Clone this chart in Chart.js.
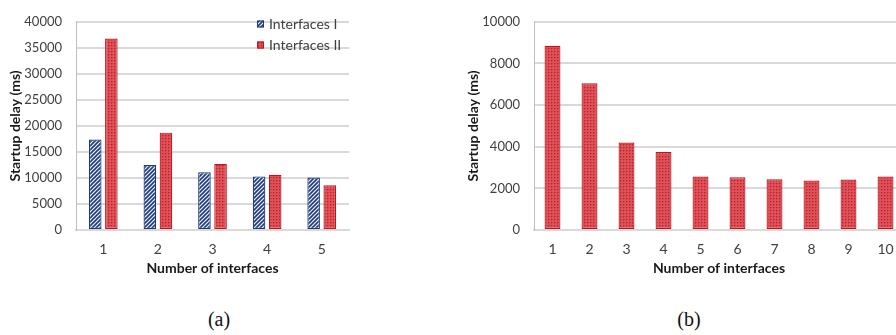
<!DOCTYPE html>
<html>
<head>
<meta charset="utf-8">
<script src="https://cdn.jsdelivr.net/npm/chart.js@4/dist/chart.umd.min.js"></script>
<style>
  html, body { margin: 0; padding: 0; background: #fff; overflow: hidden; width: 896px; height: 335px; }
  #wrap { position: relative; width: 896px; height: 335px; overflow: hidden; }
  canvas { position: absolute; }
  #chartA { left: 0; top: 0; }
  #chartB { left: 440px; top: 0; }
  .cap { position: absolute; font-family: "Liberation Serif", "DejaVu Serif", serif; font-size: 20px; color: #111; transform: translate(-50%, -50%); white-space: nowrap; }
</style>
</head>
<body>
<div id="wrap">
  <canvas id="chartA" width="360" height="300"></canvas>
  <canvas id="chartB" width="470" height="300"></canvas>
  <div class="cap" style="left:219px; top:319px;">(a)</div>
  <div class="cap" style="left:689px; top:319px;">(b)</div>
</div>
<script>
// Startup delay vs. number of interfaces
const categoriesA = ['1', '2', '3', '4', '5'];
const seriesNamesA = ['Interfaces I', 'Interfaces II'];
const interfacesI = [17400, 12500, 11100, 10300, 10100];
const interfacesII = [36800, 18700, 12700, 10600, 8600];
const yTicksA = { max: 40000, step: 5000 };

const categoriesB = ['1', '2', '3', '4', '5', '6', '7', '8', '9', '10'];
const delaysB = [8850, 7050, 4200, 3750, 2570, 2530, 2440, 2380, 2420, 2570];
const yTicksB = { max: 10000, step: 2000 };

const xTitle = 'Number of interfaces';
const yTitle = 'Startup delay (ms)';

// Fill textures: navy diagonal hatch and red dotted weave
function hatchPattern() {
  const c = document.createElement('canvas');
  c.width = 4; c.height = 4;
  const g = c.getContext('2d');
  g.fillStyle = '#eef1f8';
  g.fillRect(0, 0, 4, 4);
  g.strokeStyle = '#1e3c7c';
  g.lineWidth = 1.6;
  g.beginPath();
  g.moveTo(-1, 5); g.lineTo(5, -1);
  g.moveTo(-1, 1); g.lineTo(1, -1);
  g.moveTo(3, 5); g.lineTo(5, 3);
  g.stroke();
  return g.createPattern(c, 'repeat');
}
function dotPattern() {
  const c = document.createElement('canvas');
  c.width = 3; c.height = 3;
  const g = c.getContext('2d');
  g.fillStyle = '#e0525a';
  g.fillRect(0, 0, 3, 3);
  g.fillStyle = '#d23c43';
  g.fillRect(1, 0, 1, 1);
  g.fillRect(0, 1, 1, 1);
  g.fillStyle = '#b8222a';
  g.fillRect(0, 0, 1, 1);
  return g.createPattern(c, 'repeat');
}

const blueFill = hatchPattern();
const redFill = dotPattern();
const blueEdge = '#1f3a78';
const redEdge = '#c0141c';

const tickFont = { family: 'Lato, "Open Sans", sans-serif', size: 13 };
const titleFont = { family: 'Lato, "Open Sans", sans-serif', size: 14, weight: 'bold' };
const tickColor = '#404040';
const titleColor = '#1a1a1a';
const gridColor = '#d9d9d9';

// Legend drawn inside the plot area, stacked vertically
const insideLegend = {
  id: 'insideLegend',
  afterDraw(chart, args, opts) {
    if (!opts || !opts.show) return;
    const ctx = chart.ctx;
    ctx.save();
    ctx.font = '14px Lato, "Open Sans", sans-serif';
    ctx.textBaseline = 'middle';
    chart.data.datasets.forEach((ds, i) => {
      const y = opts.y + i * opts.gap;
      ctx.fillStyle = ds.backgroundColor;
      ctx.fillRect(opts.x, y - 3.5, 7, 7);
      ctx.strokeStyle = ds.borderColor;
      ctx.lineWidth = 1;
      ctx.strokeRect(opts.x + 0.5, y - 3, 6, 6);
      ctx.fillStyle = tickColor;
      ctx.fillText(ds.label, opts.x + 12, y + 0.5);
    });
    ctx.restore();
  }
};

const plainNumber = v => String(v);

function makeScales(yConf, yWidth, yTitlePad) {
  return {
    x: {
      grid: { display: false, drawTicks: false },
      border: { display: true, color: gridColor, width: 2 },
      ticks: { font: { ...tickFont, size: 14 }, color: tickColor, padding: 11 },
      title: { display: true, text: xTitle, font: titleFont, color: titleColor, padding: { top: 0, bottom: 23 } },
      afterFit(s) { s.height = 70; }
    },
    y: {
      min: 0, max: yConf.max,
      grid: { color: gridColor, lineWidth: 2, drawTicks: false },
      border: { display: true, color: '#bfbfbf', width: 1 },
      ticks: { stepSize: yConf.step, font: tickFont, color: tickColor, padding: 14, callback: plainNumber },
      title: { display: true, text: yTitle, font: titleFont, color: titleColor, padding: { top: yTitlePad, bottom: 0 } },
      afterFit(s) { s.width = yWidth; }
    }
  };
}

new Chart(document.getElementById('chartA'), {
  type: 'bar',
  data: {
    labels: categoriesA,
    datasets: [
      { label: seriesNamesA[0], data: interfacesI, backgroundColor: blueFill, borderColor: blueEdge, borderWidth: 1.2, borderSkipped: false },
      { label: seriesNamesA[1], data: interfacesII, backgroundColor: redFill, borderColor: redEdge, borderWidth: 1.2, borderSkipped: false }
    ]
  },
  options: {
    responsive: false,
    animation: false,
    categoryPercentage: 0.59,
    barPercentage: 0.78,
    layout: { padding: { top: 13, right: 11, left: 0, bottom: 0 } },
    plugins: {
      legend: { display: false },
      tooltip: { enabled: false },
      insideLegend: { show: true, x: 257, y: 24, gap: 21 }
    },
    scales: makeScales(yTicksA, 76, 7)
  },
  plugins: [insideLegend]
});

new Chart(document.getElementById('chartB'), {
  type: 'bar',
  data: {
    labels: categoriesB,
    datasets: [
      { label: yTitle, data: delaysB, backgroundColor: redFill, borderColor: redEdge, borderWidth: 1.2, borderSkipped: false }
    ]
  },
  options: {
    responsive: false,
    animation: false,
    categoryPercentage: 1,
    barPercentage: 0.43,
    layout: { padding: { top: 13, right: 6, left: 0, bottom: 0 } },
    plugins: {
      legend: { display: false },
      tooltip: { enabled: false }
    },
    scales: makeScales(yTicksB, 94, 25)
  }
});
</script>
</body>
</html>
